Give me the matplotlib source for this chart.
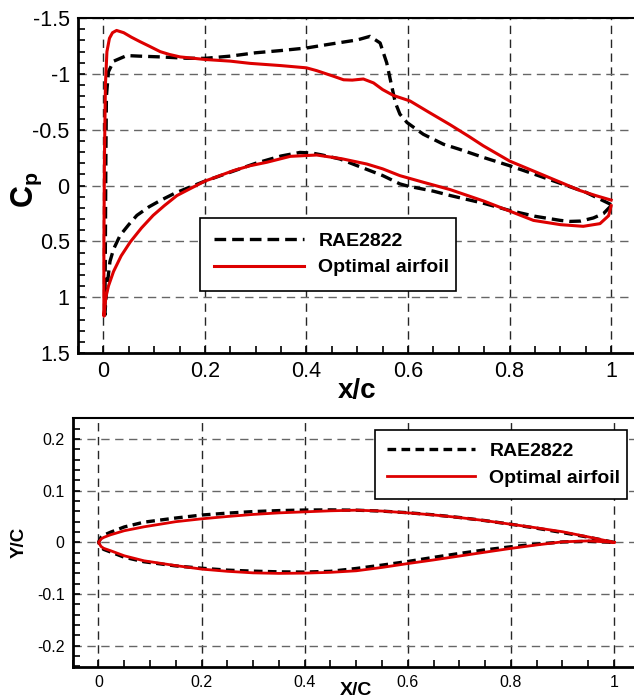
"""Cp distribution and airfoil shape: RAE2822 vs optimised airfoil."""
import matplotlib
matplotlib.use("Agg")
import matplotlib.pyplot as plt
import numpy as np
from matplotlib.ticker import MultipleLocator

plt.rcParams["font.family"] = ["Liberation Sans", "DejaVu Sans"]
plt.rcParams["mathtext.fontset"] = "custom"
plt.rcParams["mathtext.bf"] = "Liberation Sans:bold"
plt.rcParams["mathtext.rm"] = "Liberation Sans"

# ---- pressure coefficient ----
rae_up_x = [0.003, 0.004, 0.005, 0.006, 0.01, 0.02, 0.046, 0.07, 0.112, 0.164, 0.2,
            0.25, 0.3, 0.35, 0.4, 0.45, 0.5, 0.525, 0.545, 0.558, 0.565, 0.575,
            0.584, 0.598, 0.63, 0.67, 0.7, 0.75, 0.8, 0.85, 0.9, 0.95, 1.0]
rae_up_cp = [1.16, 0.5, -0.3, -0.8, -1.02, -1.114, -1.165, -1.16, -1.153, -1.141, -1.14,
             -1.16, -1.19, -1.21, -1.233, -1.27, -1.305, -1.337, -1.278, -1.10, -0.951, -0.743,
             -0.64, -0.565, -0.46, -0.37, -0.327, -0.25, -0.178, -0.1, -0.02, 0.06, 0.17]
rae_lo_x = [0.003, 0.006, 0.013, 0.02, 0.033, 0.05, 0.066, 0.09, 0.112, 0.14, 0.17, 0.2,
            0.25, 0.3, 0.35, 0.387, 0.41, 0.43, 0.466, 0.5, 0.55, 0.584, 0.6, 0.65, 0.683,
            0.75, 0.8, 0.85, 0.9, 0.919, 0.94, 0.965, 0.985, 1.0]
rae_lo_cp = [1.16, 0.95, 0.68, 0.57, 0.446, 0.35, 0.267, 0.19, 0.134, 0.07, 0.014, -0.04,
             -0.12, -0.2, -0.265, -0.297, -0.292, -0.275, -0.238, -0.178, -0.09, -0.015, 0.005,
             0.05, 0.089, 0.16, 0.223, 0.275, 0.312, 0.321, 0.318, 0.29, 0.25, 0.18]

opt_up_x = [0.001, 0.001, 0.002, 0.004, 0.007, 0.012, 0.018, 0.026, 0.04, 0.055, 0.072,
            0.09, 0.112, 0.13, 0.151, 0.2, 0.25, 0.289, 0.35, 0.4, 0.42, 0.453, 0.473, 0.49,
            0.512, 0.532, 0.55, 0.571, 0.604, 0.64, 0.683, 0.72, 0.748, 0.8, 0.85, 0.9,
            0.939, 0.97, 1.0]
opt_up_cp = [1.17, 0.6, -0.2, -0.9, -1.2, -1.32, -1.37, -1.39, -1.37, -1.33, -1.29,
             -1.25, -1.2, -1.175, -1.153, -1.13, -1.115, -1.095, -1.075, -1.055, -1.03, -0.98,
             -0.948, -0.945, -0.955, -0.92, -0.86, -0.808, -0.758, -0.66, -0.545, -0.44, -0.357,
             -0.22, -0.125, -0.03, 0.045, 0.09, 0.13]
opt_lo_x = [0.001, 0.005, 0.01, 0.02, 0.035, 0.053, 0.075, 0.098, 0.12, 0.145, 0.17, 0.2,
            0.256, 0.289, 0.322, 0.368, 0.42, 0.47, 0.519, 0.55, 0.584, 0.63, 0.683, 0.75,
            0.8, 0.847, 0.9, 0.945, 0.978, 0.995, 1.0]
opt_lo_cp = [1.17, 1.0, 0.9, 0.77, 0.63, 0.505, 0.38, 0.267, 0.18, 0.089, 0.03, -0.04,
             -0.134, -0.178, -0.209, -0.262, -0.274, -0.24, -0.193, -0.15, -0.089, -0.03, 0.036,
             0.14, 0.228, 0.312, 0.35, 0.365, 0.341, 0.27, 0.18]

# ---- airfoil geometry ----
geo_x = [0.0, 0.005, 0.01, 0.023, 0.05, 0.088, 0.15, 0.2, 0.25, 0.3, 0.35, 0.4, 0.45,
         0.5, 0.55, 0.6, 0.65, 0.7, 0.75, 0.8, 0.85, 0.9, 0.95, 1.0]
rae_up_y = [0.0, 0.0098, 0.0138, 0.0195, 0.0298, 0.0390, 0.0471, 0.0528, 0.0565, 0.0595,
            0.0614, 0.0625, 0.0628, 0.0622, 0.0604, 0.0573, 0.0532, 0.0481, 0.0420, 0.0350,
            0.0273, 0.0189, 0.0100, 0.0]
rae_lo_y = [0.0, -0.0096, -0.0136, -0.0185, -0.0288, -0.0375, -0.0456, -0.0500, -0.0537,
            -0.0557, -0.0570, -0.0575, -0.0560, -0.0505, -0.0440, -0.0370, -0.0290, -0.0215,
            -0.0145, -0.0085, -0.0035, 0.0008, 0.0020, 0.0]
opt_up_y = [0.0, 0.0065, 0.0095, 0.0145, 0.0225, 0.030, 0.040, 0.0455, 0.050, 0.054, 0.057,
            0.059, 0.061, 0.0622, 0.0605, 0.057, 0.053, 0.048, 0.042, 0.035, 0.028, 0.0205,
            0.0105, 0.0]
opt_lo_y = [0.0, -0.008, -0.0115, -0.016, -0.026, -0.0356, -0.045, -0.0517, -0.056, -0.059,
            -0.060, -0.0595, -0.058, -0.055, -0.0485, -0.041, -0.034, -0.0265, -0.019,
            -0.0117, -0.005, 0.001, 0.0028, 0.0]

LABELS = ["RAE2822", "Optimal airfoil"]
RED = "#dd0000"
XTICKS = [0, 0.2, 0.4, 0.6, 0.8, 1.0]
XTICKLABELS = ["0", "0.2", "0.4", "0.6", "0.8", "1"]


def loop(xu, yu, xl, yl):
    """Upper surface TE->LE followed by lower surface LE->TE."""
    return (np.concatenate([xu[::-1], xl]), np.concatenate([yu[::-1], yl]))


def style(ax, fs):
    ax.set_xticks(XTICKS)
    ax.set_xticklabels(XTICKLABELS)
    ax.xaxis.set_minor_locator(MultipleLocator(0.05))
    ax.tick_params(which="both", direction="in", length=5, width=1.2,
                   labelsize=fs, pad=6)
    ax.grid(True, axis="x", color="0.15", lw=1.0, ls=(0, (6, 4)), zorder=0)
    ax.grid(True, axis="y", color="0.4", lw=1.0, ls=(0, (6, 4)), zorder=0)
    ax.set_axisbelow(True)
    for s in ["left", "bottom"]:
        ax.spines[s].set_linewidth(2.0)
    ax.spines["top"].set_linewidth(1.5)
    ax.spines["right"].set_linewidth(1.5)


def legend(ax, anchor, hl, pad):
    leg = ax.legend(loc="lower left", bbox_to_anchor=anchor, mode="expand",
                    prop={"weight": "bold", "size": 14}, frameon=True, fancybox=False,
                    handlelength=hl, borderpad=pad, labelspacing=0.45,
                    handletextpad=0.75, borderaxespad=0)
    leg.get_frame().set_edgecolor("black")
    leg.get_frame().set_linewidth(1.2)
    leg.get_frame().set_alpha(1)


fig = plt.figure(figsize=(6.34, 6.99), dpi=100)

# ---- top: Cp ----
ax1 = fig.add_axes([0.123, 0.495, 0.881, 0.479])
x, y = loop(rae_up_x, rae_up_cp, rae_lo_x, rae_lo_cp)
ax1.plot(x, y, color="black", lw=2.4, dashes=(3.5, 1.8), label=LABELS[0], zorder=3)
x, y = loop(opt_up_x, opt_up_cp, opt_lo_x, opt_lo_cp)
ax1.plot(x, y, color=RED, lw=2.2, label=LABELS[1], zorder=4)
ax1.set_xlim(-0.05, 1.05)
ax1.set_ylim(1.5, -1.5)
ax1.set_yticks([-1.5, -1, -0.5, 0, 0.5, 1, 1.5])
ax1.set_yticklabels(["-1.5", "-1", "-0.5", "0", "0.5", "1", "1.5"])
ax1.yaxis.set_minor_locator(MultipleLocator(0.1))
style(ax1, 15.5)
ax1.set_xlabel("x/c", fontsize=20, fontweight="bold")
ax1.xaxis.set_label_coords(0.5, -0.075)
ax1.set_ylabel(r"$\mathbf{C_p}$", fontsize=22)
ax1.yaxis.set_label_coords(-0.06, 0.487)
legend(ax1, (0.218, 0.185, 0.459, 0.2), 4.6, 0.75)

# ---- bottom: geometry ----
ax2 = fig.add_axes([0.1147, 0.0458, 0.8945, 0.3566])
ax2.plot(np.concatenate([geo_x[::-1], geo_x]), np.concatenate([rae_up_y[::-1], rae_lo_y]),
         color="black", lw=2.4, dashes=(2.6, 1.6), label=LABELS[0], zorder=3)
ax2.plot(np.concatenate([geo_x[::-1], geo_x]), np.concatenate([opt_up_y[::-1], opt_lo_y]),
         color=RED, lw=2.0, label=LABELS[1], zorder=4)
ax2.set_xlim(-0.05, 1.05)
ax2.set_ylim(-0.241, 0.241)
ax2.set_yticks([-0.2, -0.1, 0, 0.1, 0.2])
ax2.set_yticklabels(["-0.2", "-0.1", "0", "0.1", "0.2"])
ax2.yaxis.set_minor_locator(MultipleLocator(0.02))
style(ax2, 11.5)
ax2.set_xlabel("X/C", fontsize=14, fontweight="bold")
ax2.xaxis.set_label_coords(0.5, -0.062)
ax2.set_ylabel("Y/C", fontsize=13.5, fontweight="bold")
ax2.yaxis.set_label_coords(-0.079, 0.5)
legend(ax2, (0.5325, 0.673, 0.444, 0.27), 4.5, 0.65)

fig.savefig("out.png", dpi=100)
